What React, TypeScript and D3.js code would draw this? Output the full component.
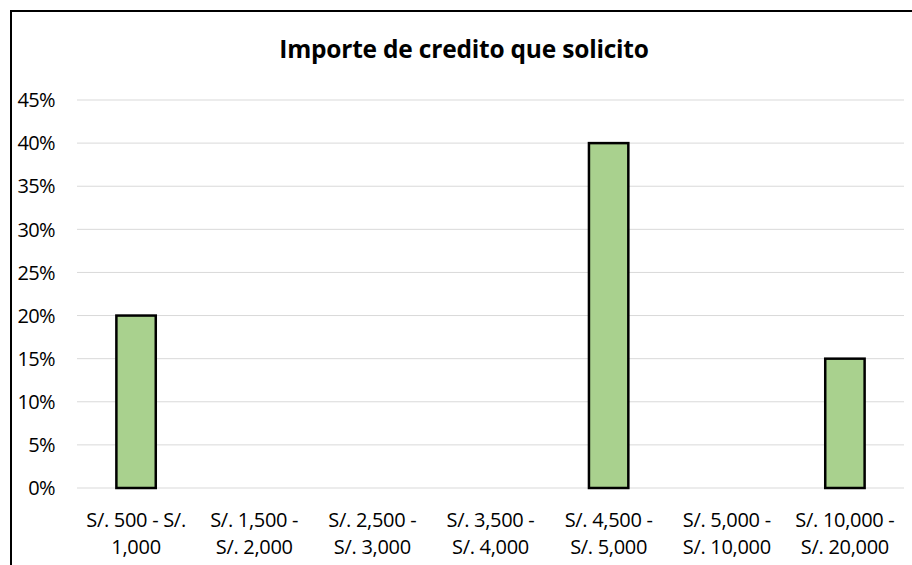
import React from "react";
import * as d3 from "d3";

const categories: string[][] = [
  ["S/. 500 - S/.", "1,000"],
  ["S/. 1,500 -", "S/. 2,000"],
  ["S/. 2,500 -", "S/. 3,000"],
  ["S/. 3,500 -", "S/. 4,000"],
  ["S/. 4,500 -", "S/. 5,000"],
  ["S/. 5,000 -", "S/. 10,000"],
  ["S/. 10,000 -", "S/. 20,000"],
];
const values: number[] = [0.2, 0, 0, 0, 0.4, 0, 0.15];
const yTicks: number[] = [0, 0.05, 0.1, 0.15, 0.2, 0.25, 0.3, 0.35, 0.4, 0.45];
const title = "Importe de credito que solicito";

const W = 912;
const H = 565;
const FONT = "'Open Sans', 'Noto Sans', sans-serif";

export default function App() {
  const keys = categories.map((_, i) => String(i));
  const x = d3
    .scaleBand<string>()
    .domain(keys)
    .range([77, 904])
    .paddingInner(2 / 3)
    .paddingOuter(1 / 3);
  const y = d3.scaleLinear().domain([0, 0.45]).range([488, 100]);
  const fmt = d3.format(".0%");

  return (
    <svg
      width={W}
      height={H}
      style={{ position: "absolute", left: 0, top: 0, background: "#fff" }}
      fontFamily={FONT}
    >
      <rect x={0} y={0} width={W} height={H} fill="#fff" />
      <rect x={11} y={11} width={W + 20} height={H + 20} fill="none" stroke="#000" strokeWidth={2} />
      <text x={464} y={58} textAnchor="middle" fontSize={24.5} fontWeight="bold" fill="#000" letterSpacing={-0.2}>
        {title}
      </text>
      {yTicks.map((t) => (
        <g key={t}>
          <line x1={77} x2={904} y1={y(t)} y2={y(t)} stroke="#D9D9D9" strokeWidth={1} />
          <text x={55} y={y(t)} dy="0.36em" textAnchor="end" fontSize={20} fill="#000" letterSpacing={-0.6}>
            {fmt(t)}
          </text>
        </g>
      ))}
      {values.map((v, i) =>
        v > 0 ? (
          <rect
            key={i}
            x={x(String(i))!}
            y={y(v)}
            width={x.bandwidth()}
            height={y(0) - y(v)}
            fill="#A9D18E"
            stroke="#000"
            strokeWidth={2.5}
          />
        ) : null
      )}
      {categories.map((lines, i) => (
        <text
          key={i}
          x={x(String(i))! + x.bandwidth() / 2}
          y={527}
          textAnchor="middle"
          fontSize={20}
          fill="#000"
          letterSpacing={-0.3}
        >
          {lines.map((l, j) => (
            <tspan key={j} x={x(String(i))! + x.bandwidth() / 2} y={527 + j * 27}>
              {l}
            </tspan>
          ))}
        </text>
      ))}
    </svg>
  );
}
